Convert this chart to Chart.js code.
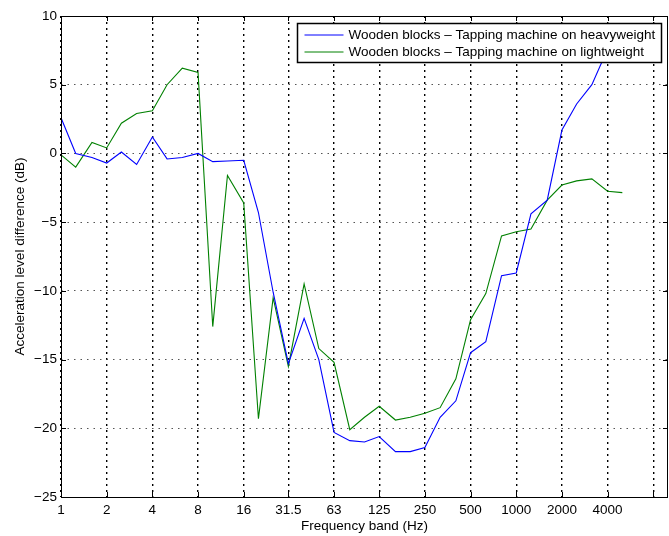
<!DOCTYPE html>
<html>
<head>
<meta charset="utf-8">
<title>Acceleration level difference</title>
<script src="https://cdn.jsdelivr.net/npm/chart.js@4/dist/chart.umd.min.js"></script>
<style>
  html, body { margin: 0; padding: 0; background: #fff; }
  #wrap { width: 669px; height: 536px; position: relative; }
</style>
</head>
<body>
<div id="wrap"><canvas id="accChart"></canvas></div>
<script>
const $ = (id) => document.getElementById(id);

// third-octave band centres (Hz)
const bands = [1, 1.25, 1.6, 2, 2.5, 3.15, 4, 5, 6.3, 8, 10, 12.5, 16, 20, 25, 31.5, 40, 50, 63, 80,
  100, 125, 160, 200, 250, 315, 400, 500, 630, 800, 1000, 1250, 1600, 2000, 2500, 3150, 4000, 5000];

// level difference (dB), wooden blocks, tapping machine on heavyweight floor
const heavyweight = [2.6, 0.0, -0.3, -0.7, 0.1, -0.8, 1.2, -0.4, -0.3, 0.0, -0.6, -0.55, -0.5, -4.3,
  -10.1, -15.3, -12.0, -15.0, -20.3, -20.9, -21.0, -20.6, -21.7, -21.7, -21.4, -19.2, -18.0, -14.5,
  -13.7, -8.9, -8.7, -4.4, -3.4, 1.7, 3.6, 5.0, 7.6, 9.0];

// same, tapping machine on lightweight floor
const lightweight = [-0.1, -1.0, 0.8, 0.4, 2.2, 2.9, 3.1, 5.0, 6.2, 5.9, -12.6, -1.6, -3.6, -19.3,
  -10.5, -15.5, -9.5, -14.2, -15.2, -20.1, -19.2, -18.4, -19.4, -19.2, -18.9, -18.5, -16.4, -12.1,
  -10.2, -6.0, -5.7, -5.5, -3.4, -2.3, -2.0, -1.85, -2.75, -2.85];

const xTickValues = [1, 2, 4, 8, 16, 31.5, 63, 125, 250, 500, 1000, 2000, 4000, 8000];
const xTickLabels = ["1", "2", "4", "8", "16", "31.5", "63", "125", "250", "500", "1000", "2000", "4000", ""];
const yTickValues = [-25, -20, -15, -10, -5, 0, 5, 10];

const seriesNames = [
  "Wooden blocks \u2013 Tapping machine on heavyweight",
  "Wooden blocks \u2013 Tapping machine on lightweight",
];
const seriesColors = ["#0000ff", "#008000"];

const FONT = "'Liberation Sans', Arial, Helvetica, sans-serif";
const FONT_SIZE = 13.5;

function toPoints(ys) {
  return bands.map((f, i) => ({ x: f, y: ys[i] }));
}

// axes box with inward tick marks, drawn over the grid
const framePlugin = {
  id: "frame",
  afterDatasetsDraw(chart) {
    const { ctx, chartArea: a, scales } = chart;
    ctx.save();
    ctx.strokeStyle = "#000";
    ctx.lineWidth = 1;
    ctx.setLineDash([]);
    ctx.beginPath();
    xTickValues.forEach((v) => {
      const px = Math.round(scales.x.getPixelForValue(v)) + 0.5;
      ctx.moveTo(px, a.top); ctx.lineTo(px, a.top + 5);
      ctx.moveTo(px, a.bottom); ctx.lineTo(px, a.bottom - 5);
    });
    yTickValues.forEach((v) => {
      const py = Math.round(scales.y.getPixelForValue(v)) + 0.5;
      ctx.moveTo(a.left, py); ctx.lineTo(a.left + 5, py);
      ctx.moveTo(a.right, py); ctx.lineTo(a.right - 5, py);
    });
    ctx.stroke();
    ctx.strokeRect(Math.round(a.left) + 0.5, Math.round(a.top) + 0.5,
      Math.round(a.right - a.left) - 1, Math.round(a.bottom - a.top));
    ctx.restore();
  },
};

// boxed legend in the upper right corner of the axes
const legendBoxPlugin = {
  id: "legendBox",
  afterDatasetsDraw(chart) {
    const { ctx, chartArea: a } = chart;
    const w = 364, h = 39;
    const x0 = Math.round(a.right - 7 - w) + 0.5;
    const y0 = Math.round(a.top + 7) + 0.5;
    ctx.save();
    ctx.fillStyle = "#fff";
    ctx.fillRect(x0, y0, w, h);
    ctx.strokeStyle = "#000";
    ctx.lineWidth = 1.5;
    ctx.strokeRect(x0, y0, w, h);
    ctx.font = FONT_SIZE + "px " + FONT;
    ctx.textBaseline = "middle";
    ctx.fillStyle = "#000";
    seriesNames.forEach((name, i) => {
      const cy = y0 + 11.5 + i * 17;
      ctx.strokeStyle = seriesColors[i];
      ctx.lineWidth = 1;
      ctx.beginPath();
      ctx.moveTo(x0 + 7, cy);
      ctx.lineTo(x0 + 46, cy);
      ctx.stroke();
      ctx.fillText(name, x0 + 51, cy + 0.5);
    });
    ctx.restore();
  },
};

new Chart($("accChart").getContext("2d"), {
  type: "line",
  data: {
    datasets: [heavyweight, lightweight].map((ys, i) => ({
      label: seriesNames[i],
      data: toPoints(ys),
      borderColor: seriesColors[i],
      backgroundColor: seriesColors[i],
      borderWidth: 1.1,
      pointRadius: 0,
      tension: 0,
      fill: false,
    })),
  },
  options: {
    responsive: true,
    maintainAspectRatio: false,
    animation: false,
    layout: { padding: { top: 16, right: 1, left: 0, bottom: 0 } },
    plugins: { legend: { display: false }, tooltip: { enabled: false } },
    scales: {
      x: {
        type: "logarithmic",
        min: 1,
        max: 10000,
        afterBuildTicks: (scale) => {
          scale.ticks = xTickValues.map((v) => ({ value: v }));
        },
        afterFit: (scale) => { scale.height = 39; },
        ticks: {
          autoSkip: false,
          maxRotation: 0,
          padding: 5,
          color: "#000",
          font: { family: FONT, size: FONT_SIZE },
          callback: (v, i) => xTickLabels[i],
        },
        grid: {
          color: "#000",
          lineWidth: 1.4,
          drawTicks: false,
        },
        border: { display: false, dash: [2, 4] },
        title: {
          display: true,
          text: "Frequency band (Hz)",
          color: "#000",
          font: { family: FONT, size: FONT_SIZE },
          padding: { top: 1, bottom: 2 },
        },
      },
      y: {
        min: -25,
        max: 10,
        afterBuildTicks: (scale) => {
          scale.ticks = yTickValues.map((v) => ({ value: v }));
        },
        afterFit: (scale) => { scale.width = 61; },
        ticks: {
          padding: 4,
          color: "#000",
          font: { family: FONT, size: FONT_SIZE },
          callback: (v) => (v < 0 ? "\u2212" + Math.abs(v) : String(v)),
        },
        grid: {
          color: "#555",
          lineWidth: 1,
          drawTicks: false,
        },
        border: { display: false, dash: [1.5, 5] },
        title: {
          display: true,
          text: "Acceleration level difference (dB)",
          color: "#000",
          font: { family: FONT, size: FONT_SIZE },
          padding: { top: 12, bottom: 0 },
        },
      },
    },
  },
  plugins: [framePlugin, legendBoxPlugin],
});
</script>
</body>
</html>
